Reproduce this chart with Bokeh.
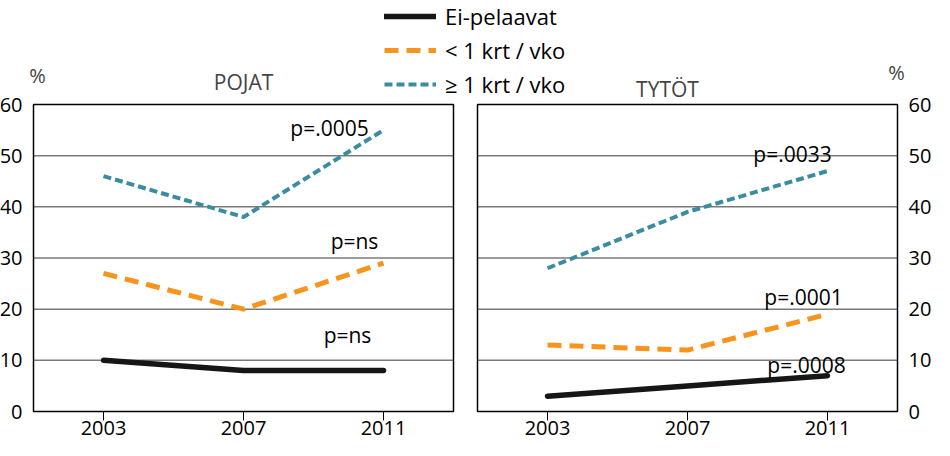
from bokeh.plotting import figure
from bokeh.models import (Range1d, LinearAxis, FixedTicker, CustomJSTickFormatter,
                          Legend, LegendItem, Label)
from bokeh.embed import file_html
from bokeh.resources import INLINE

# ---------------- data ----------------
years = [2003, 2007, 2011]
boys_non = [10, 8, 8]
boys_lt1 = [27, 20, 29]
boys_ge1 = [46, 38, 55]
girls_non = [3, 5, 7]
girls_lt1 = [13, 12, 19]
girls_ge1 = [28, 39, 47]
series_names = ["Ei-pelaavat", "< 1 krt / vko", "\u2265 1 krt / vko"]
boys_p = ["p=ns", "p=ns", "p=.0005"]
girls_p = ["p=.0008", "p=.0001", "p=.0033"]
panel_titles = ["POJAT", "TYT\u00d6T"]
y_ticks = [0, 10, 20, 30, 40, 50, 60]
x_lo, x_hi = 2001, 2013
y_lo, y_hi = 0, 60

# ---------------- layout ----------------
FONT = "Open Sans"
W, H = 934, 440
panel_w, gap = 420, 24
p_left = 33
p_top, p_bot = 104, 411

ppy = panel_w / (x_hi - x_lo)
xstart = x_lo - p_left / ppy
xend = xstart + W / ppy
shift = (panel_w + gap) / ppy
ppu = (p_bot - p_top) / (y_hi - y_lo)
ystart = y_lo - (H - p_bot) / ppu
yend = y_hi + p_top / ppu

p = figure(width=W, height=H, x_range=Range1d(xstart, xend),
           y_range=Range1d(ystart, yend), x_axis_type=None, y_axis_type=None,
           min_border_left=0, min_border_right=0,
           min_border_top=0, min_border_bottom=0,
           output_backend="svg", toolbar_location=None)
p.extra_x_ranges = {"right": Range1d(xstart - shift, xend - shift)}
p.outline_line_color = None
p.background_fill_color = "white"
p.border_fill_color = "white"

# x axis drawn at y=0 inside the frame
xaxis = LinearAxis(
    ticker=FixedTicker(ticks=years + [y + shift for y in years]),
    formatter=CustomJSTickFormatter(args=dict(shift=shift, hi=x_hi),
                                    code="return String(Math.round(tick > hi ? tick - shift : tick));"),
    fixed_location=y_lo)
xaxis.axis_line_color = None
xaxis.major_tick_in = 0
xaxis.major_tick_out = 9
xaxis.major_tick_line_color = "black"
xaxis.major_tick_line_width = 1
xaxis.minor_tick_line_color = None
xaxis.major_label_standoff = 0
xaxis.major_label_text_font = FONT
xaxis.major_label_text_font_size = "20px"
xaxis.major_label_text_color = "black"
p.add_layout(xaxis, "below")

for side, standoff, rng, loc in (("left", 5, "default", x_lo), ("right", 5, "right", x_hi)):
    ax = LinearAxis(ticker=FixedTicker(ticks=y_ticks), fixed_location=loc, x_range_name=rng)
    ax.axis_line_color = None
    ax.major_tick_line_color = None
    ax.minor_tick_line_color = None
    ax.major_label_standoff = standoff
    ax.major_label_text_font = FONT
    ax.major_label_text_font_size = "20px"
    ax.major_label_text_color = "black"
    p.add_layout(ax, side)

mid = y_ticks[1:-1]
black, orange, teal = "#161616", "#F7941D", "#3A8CA1"
styles = [
    dict(line_color=black, line_width=5.5, line_cap="round", line_join="round"),
    dict(line_color=orange, line_width=5, line_dash="14 8", line_join="round"),
    dict(line_color=teal, line_width=4, line_dash="8 4", line_join="round"),
]

renderers = []
for rng, data in (("default", [boys_non, boys_lt1, boys_ge1]),
                  ("right", [girls_non, girls_lt1, girls_ge1])):
    p.segment(x0=[x_lo] * len(mid), x1=[x_hi] * len(mid), y0=mid, y1=mid,
              line_color="#7a7a7a", line_width=1.5, x_range_name=rng)
    p.quad(left=[x_lo], right=[x_hi], bottom=[y_lo], top=[y_hi],
           fill_color=None, line_color="black", line_width=1.5, x_range_name=rng)
    rs = []
    for vals, st in zip(data, styles):
        rs.append(p.line(years, vals, x_range_name=rng, **st))
    renderers.append(rs)

legend = Legend(items=[LegendItem(label=n, renderers=[r]) for n, r in zip(series_names, renderers[0])],
                location=(384, H - 99))
legend.orientation = "vertical"
legend.padding = 0
legend.margin = 0
legend.spacing = 4
legend.glyph_width = 52
legend.glyph_height = 20
legend.label_height = 20
legend.label_standoff = 9
legend.border_line_color = None
legend.background_fill_alpha = 0
legend.label_text_font = FONT
legend.label_text_font_size = "22px"
legend.label_text_color = "black"
p.add_layout(legend, "center")

# p-value labels (offsets in screen px from last point)
boys_off = [(-36, 36), (-29, 22), (-54, 2)]
girls_off = [(-21, 11), (-24, 17), (-35, 17)]
for rng, data, texts, offs in (("default", [boys_non, boys_lt1, boys_ge1], boys_p, boys_off),
                               ("right", [girls_non, girls_lt1, girls_ge1], girls_p, girls_off)):
    for vals, t, (dx, dy) in zip(data, texts, offs):
        p.add_layout(Label(x=years[-1], y=vals[-1], x_offset=dx, y_offset=dy, text=t,
                           x_range_name=rng, text_align="center", text_baseline="middle",
                           text_font=FONT, text_font_size="21px", text_color="black"))

# panel titles and % signs
p.add_layout(Label(x=2007, y=y_hi, y_offset=23, text=panel_titles[0], text_align="center",
                   text_baseline="middle", text_font=FONT, text_font_size="21px"))
p.add_layout(Label(x=2007, y=y_hi, x_offset=-20, y_offset=16, text=panel_titles[1],
                   x_range_name="right", text_align="center", text_baseline="middle",
                   text_font=FONT, text_font_size="21px"))
p.add_layout(Label(x=x_lo, y=y_hi, x_offset=4, y_offset=29, text="%", text_align="center",
                   text_baseline="middle", text_font=FONT, text_font_size="20px"))
p.add_layout(Label(x=x_hi, y=y_hi, x_offset=-1, y_offset=32, text="%", x_range_name="right",
                   text_align="center", text_baseline="middle", text_font=FONT,
                   text_font_size="20px"))

open("out.html", "w").write(file_html(p, INLINE))
